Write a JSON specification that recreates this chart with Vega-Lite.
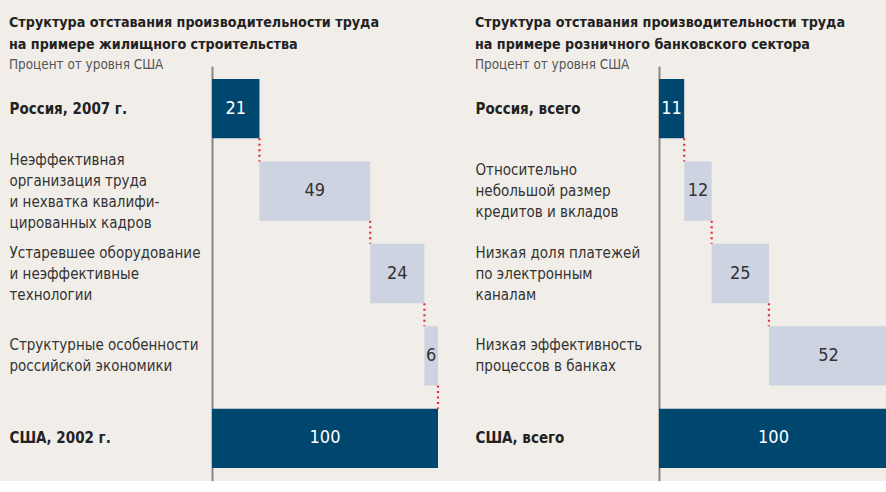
{
  "$schema": "https://vega.github.io/schema/vega-lite/v6.json",
  "background": "#f1eee9",
  "padding": {"left": 9, "top": 16, "right": 0, "bottom": 0},
  "spacing": 35,
  "config": {
    "view": {"stroke": null},
    "font": "DejaVu Sans Condensed",
    "title": {
      "anchor": "start",
      "font": "DejaVu Sans Condensed",
      "fontSize": 14.2,
      "fontWeight": "bold",
      "color": "#222222",
      "lineHeight": 22,
      "subtitleFont": "DejaVu Sans Condensed",
      "subtitleFontSize": 13.4,
      "subtitleColor": "#555555",
      "subtitlePadding": 5,
      "offset": -5
    },
    "axisY": {
      "title": null,
      "domainColor": "#8c8782",
      "domainWidth": 2,
      "ticks": false,
      "tickSize": 0,
      "grid": false,
      "labelAlign": "left",
      "labelBaseline": "middle",
      "labelExpr": "split(datum.value, '|')",
      "labelFont": "DejaVu Sans Condensed",
      "labelFontSize": 15,
      "labelLineHeight": 21,
      "labelLimit": 0,
      "labelOverlap": false,
      "labelBound": false,
      "labelOffset": {"condition": [{"test": "length(split(datum.value, '|')) == 4", "value": -31.5}, {"test": "length(split(datum.value, '|')) == 3", "value": -21}, {"test": "length(split(datum.value, '|')) == 2", "value": -10.5}], "value": 0},
      "labelColor": {"condition": {"test": "indexof(datum.value, 'Россия') == 0 || indexof(datum.value, 'США') == 0", "value": "#222222"}, "value": "#333333"},
      "labelFontWeight": {"condition": {"test": "indexof(datum.value, 'Россия') == 0 || indexof(datum.value, 'США') == 0", "value": "bold"}, "value": "normal"}
    }
  },
  "hconcat": [
    {
      "width": 226,
      "height": 415,
      "title": {"text": ["Структура отставания производительности труда", "на примере жилищного строительства"], "subtitle": "Процент от уровня США"},
      "data": {"values": [
        {"label": "Россия, 2007 г.", "start": 0, "end": 21, "value": 21, "kind": "total", "next": "Неэффективная|организация труда|и нехватка квалифи-|цированных кадров"},
        {"label": "Неэффективная|организация труда|и нехватка квалифи-|цированных кадров", "start": 21, "end": 70, "value": 49, "kind": "part", "next": "Устаревшее оборудование|и неэффективные|технологии"},
        {"label": "Устаревшее оборудование|и неэффективные|технологии", "start": 70, "end": 94, "value": 24, "kind": "part", "next": "Структурные особенности|российской экономики"},
        {"label": "Структурные особенности|российской экономики", "start": 94, "end": 100, "value": 6, "kind": "part", "next": "США, 2002 г."},
        {"label": "США, 2002 г.", "start": 0, "end": 100, "value": 100, "kind": "total", "next": null}
      ]},
      "transform": [{"calculate": "(datum.start + datum.end) / 2", "as": "mid"}],
      "encoding": {
        "y": {
          "field": "label", "type": "nominal", "sort": null,
          "scale": {"domain": ["Россия, 2007 г.", "Неэффективная|организация труда|и нехватка квалифи-|цированных кадров", "Устаревшее оборудование|и неэффективные|технологии", "Структурные особенности|российской экономики", "США, 2002 г."], "paddingInner": 0.28, "paddingOuter": 0.158},
          "axis": {"labelPadding": 203}
        }
      },
      "layer": [
        {
          "transform": [{"filter": "datum.next != null"}],
          "mark": {"type": "rule", "color": "#e8253c", "strokeDash": [2, 3.5], "strokeWidth": 2.2},
          "encoding": {
            "x": {"field": "end", "type": "quantitative", "scale": {"domain": [0, 100], "nice": false}, "axis": null},
            "y": {"field": "label", "type": "nominal", "bandPosition": 1},
            "y2": {"field": "next", "bandPosition": 0}
          }
        },
        {
          "mark": {"type": "bar"},
          "encoding": {
            "x": {"field": "start", "type": "quantitative", "scale": {"domain": [0, 100], "nice": false}, "axis": null},
            "x2": {"field": "end"},
            "color": {"field": "kind", "type": "nominal", "scale": {"domain": ["total", "part"], "range": ["#00476f", "#cdd3e0"]}, "legend": null}
          }
        },
        {
          "mark": {"type": "text", "fontSize": 18, "font": "DejaVu Sans Condensed"},
          "encoding": {
            "x": {"field": "mid", "type": "quantitative"},
            "text": {"field": "value", "type": "quantitative"},
            "color": {"condition": {"test": "datum.kind == 'total'", "value": "#ffffff"}, "value": "#333333"},
            "fontWeight": {"condition": {"test": "datum.kind == 'total'", "value": "bold"}, "value": "normal"}
          }
        }
      ]
    },
    {
      "width": 229,
      "height": 415,
      "title": {"text": ["Структура отставания производительности труда", "на примере розничного банковского сектора"], "subtitle": "Процент от уровня США"},
      "data": {"values": [
        {"label": "Россия, всего", "start": 0, "end": 11, "value": 11, "kind": "total", "next": "Относительно|небольшой размер|кредитов и вкладов"},
        {"label": "Относительно|небольшой размер|кредитов и вкладов", "start": 11, "end": 23, "value": 12, "kind": "part", "next": "Низкая доля платежей|по электронным|каналам"},
        {"label": "Низкая доля платежей|по электронным|каналам", "start": 23, "end": 48, "value": 25, "kind": "part", "next": "Низкая эффективность|процессов в банках"},
        {"label": "Низкая эффективность|процессов в банках", "start": 48, "end": 100, "value": 52, "kind": "part", "next": null},
        {"label": "США, всего", "start": 0, "end": 100, "value": 100, "kind": "total", "next": null}
      ]},
      "transform": [{"calculate": "(datum.start + datum.end) / 2", "as": "mid"}],
      "encoding": {
        "y": {
          "field": "label", "type": "nominal", "sort": null,
          "scale": {"domain": ["Россия, всего", "Относительно|небольшой размер|кредитов и вкладов", "Низкая доля платежей|по электронным|каналам", "Низкая эффективность|процессов в банках", "США, всего"], "paddingInner": 0.28, "paddingOuter": 0.158},
          "axis": {"labelPadding": 184}
        }
      },
      "layer": [
        {
          "transform": [{"filter": "datum.next != null"}],
          "mark": {"type": "rule", "color": "#e8253c", "strokeDash": [2, 3.5], "strokeWidth": 2.2},
          "encoding": {
            "x": {"field": "end", "type": "quantitative", "scale": {"domain": [0, 100], "nice": false}, "axis": null},
            "y": {"field": "label", "type": "nominal", "bandPosition": 1},
            "y2": {"field": "next", "bandPosition": 0}
          }
        },
        {
          "mark": {"type": "bar"},
          "encoding": {
            "x": {"field": "start", "type": "quantitative", "scale": {"domain": [0, 100], "nice": false}, "axis": null},
            "x2": {"field": "end"},
            "color": {"field": "kind", "type": "nominal", "scale": {"domain": ["total", "part"], "range": ["#00476f", "#cdd3e0"]}, "legend": null}
          }
        },
        {
          "mark": {"type": "text", "fontSize": 18, "font": "DejaVu Sans Condensed"},
          "encoding": {
            "x": {"field": "mid", "type": "quantitative"},
            "text": {"field": "value", "type": "quantitative"},
            "color": {"condition": {"test": "datum.kind == 'total'", "value": "#ffffff"}, "value": "#333333"},
            "fontWeight": {"condition": {"test": "datum.kind == 'total'", "value": "bold"}, "value": "normal"}
          }
        }
      ]
    }
  ]
}
